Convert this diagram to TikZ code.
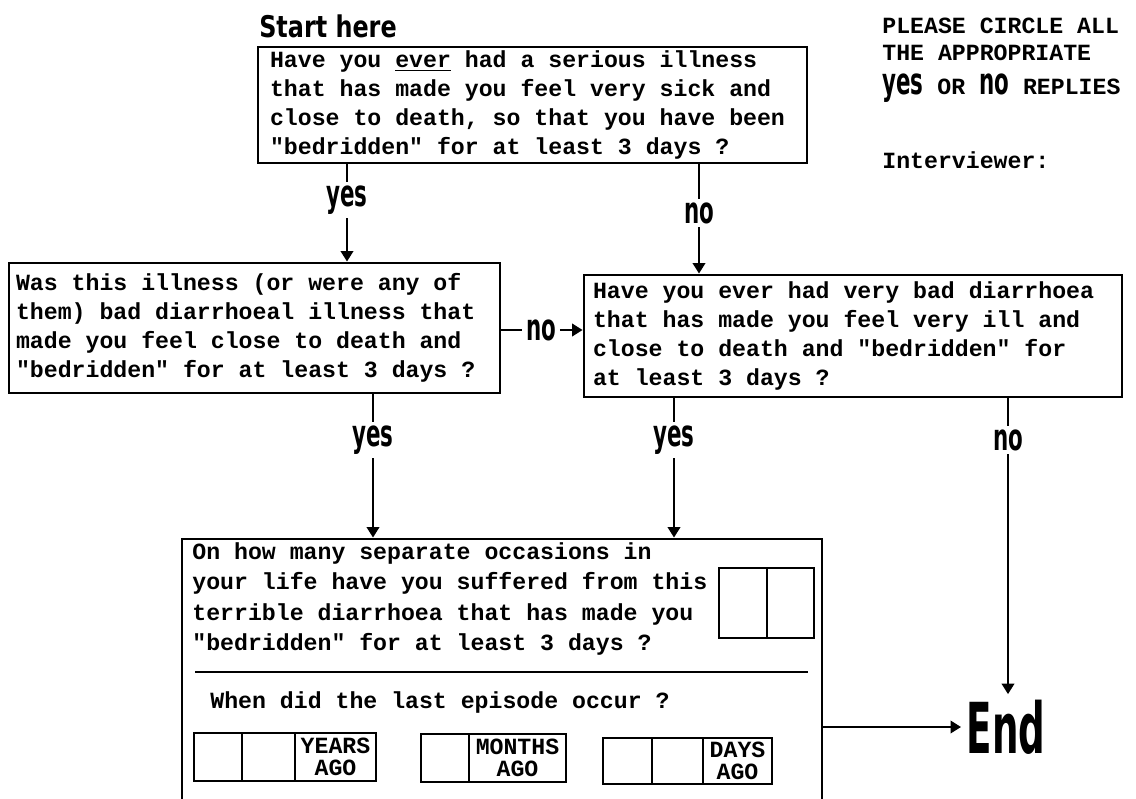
\documentclass[tikz,border=0pt]{standalone}
\usepackage{fontspec}
\usetikzlibrary{arrows.meta,positioning}
\newfontfamily\qfont{Liberation Mono}
\newfontfamily\tallfont{DejaVu Sans}
\newcommand\tall[2][0.58]{\scalebox{#1}[1]{\tallfont\bfseries\fontsize{21}{21}\selectfont #2}}

\begin{document}
\begin{tikzpicture}[x=0.02cm, y=-0.02cm,
  qbox/.style={rectangle, draw, line width=1.6pt, align=left, inner ysep=0pt,
    font=\qfont\bfseries\fontsize{13.2}{16.4}\selectfont,
    execute at begin node={\frenchspacing\spaceskip=0pt\xspaceskip=0pt}},
  cell/.style={rectangle, draw, line width=1.1pt, inner sep=0pt, align=center,
    font=\qfont\bfseries\fontsize{13.2}{12.6}\selectfont},
  lab/.style={inner sep=2pt},
  plain/.style={inner sep=0pt, align=left, font=\qfont\bfseries\fontsize{13.2}{16}\selectfont},
  wire/.style={line width=1.6pt},
  flow/.style={line width=1.6pt, -{Triangle[length=6pt,width=7pt]}}]
\useasboundingbox (0,0) rectangle (1136,798);
\clip (0,0) rectangle (1136,798);

% questions
\node (start) at (328,26) {\tall[0.8]{\fontsize{17}{17}\selectfont Start here}};
\node (q1) at (532.5,105) [qbox, minimum width=10.98cm, minimum height=2.32cm,
  inner xsep=0.24cm, text width=10.5cm]
  {Have you \underline{ever} had a serious illness\\
   that has made you feel very sick and\\
   close to death, so that you have been\\
   "bedridden" for at least 3 days ?};
\node (q2) at (254.5,328) [qbox, minimum width=9.82cm, minimum height=2.6cm,
  inner xsep=0.14cm, text width=9.54cm]
  {Was this illness (or were any of\\
   them) bad diarrhoeal illness that\\
   made you feel close to death and\\
   "bedridden" for at least 3 days ?};
\node (q3) at (853,336) [qbox, minimum width=10.76cm, minimum height=2.44cm,
  inner xsep=0.18cm, text width=10.4cm]
  {Have you ever had very bad diarrhoea\\
   that has made you feel very ill and\\
   close to death and "bedridden" for\\
   at least 3 days ?};
\node (q4) at (502,694.5) [qbox, minimum width=12.8cm, minimum height=6.22cm] {};
\node (end) at (1006,727) [inner sep=3pt] {\tall[0.53]{\fontsize{40}{40}\selectfont End}};

% notes
\node (hdr) at (882,18) [plain, anchor=north west, font=\qfont\bfseries\fontsize{13.2}{15.2}\selectfont]
  {PLEASE CIRCLE ALL\\THE APPROPRIATE\\[4pt]\tall{yes} OR \tall{no} REPLIES};
\node (intv) at (882,160) [plain, anchor=west] {Interviewer:};

% last question
\node (q4txt) at (192,599) [plain, anchor=west, font=\qfont\bfseries\fontsize{13.2}{17.2}\selectfont]
  {On how many separate occasions in\\
   your life have you suffered from this\\
   terrible diarrhoea that has made you\\
   "bedridden" for at least 3 days ?};
\node (n1) at (743,603) [cell, minimum width=0.96cm, minimum height=1.4cm] {};
\node (n2) at (790.5,603) [cell, minimum width=0.94cm, minimum height=1.4cm] {};
\draw [line width=1.1pt] (195,672) -- (808,672);
\node (when) at (210,702) [plain, anchor=west] {When did the last episode occur ?};
\node (y1) at (218,757) [cell, minimum width=0.96cm, minimum height=0.96cm] {};
\node (y2) at (268.5,757) [cell, minimum width=1.06cm, minimum height=0.96cm] {};
\node (y3) at (335.5,757) [cell, minimum width=1.62cm, minimum height=0.96cm] {YEARS\\AGO};
\node (m1) at (445,758) [cell, minimum width=0.96cm, minimum height=0.96cm] {};
\node (m2) at (517.5,758) [cell, minimum width=1.94cm, minimum height=0.96cm] {MONTHS\\AGO};
\node (d1) at (627.5,761) [cell, minimum width=0.98cm, minimum height=0.92cm] {};
\node (d2) at (677.5,761) [cell, minimum width=1.02cm, minimum height=0.92cm] {};
\node (d3) at (737.5,761) [cell, minimum width=1.38cm, minimum height=0.92cm] {DAYS\\AGO};

% answers
\node (l1) at (347,200) [lab] {\tall{yes}};
\node (l0) at (699,213) [lab] {\tall{no}};
\node (l2) at (541,330) [lab] {\tall{no}};
\node (l3) at (373,440) [lab] {\tall{yes}};
\node (l4) at (674,440) [lab] {\tall{yes}};
\node (l5) at (1008,440) [lab] {\tall{no}};

\draw [wire] (q1.south -| l1) -- (l1);
\draw [flow] (l1) -- (l1 |- q2.north);
\draw [wire] (q1.south -| l0) -- (l0);
\draw [flow] (l0) -- (l0 |- q3.north);
\draw [wire] (q2.east |- l2) -- (l2);
\draw [flow] (l2) -- (q3.west |- l2);
\draw [wire] (q2.south -| l3) -- (l3);
\draw [flow] (l3) -- (l3 |- q4.north);
\draw [wire] (q3.south -| l4) -- (l4);
\draw [flow] (l4) -- (l4 |- q4.north);
\draw [wire] (q3.south -| l5) -- (l5);
\draw [flow] (l5) -- (l5 |- end.north);
\draw [flow] (q4.east |- end) -- (end);
\end{tikzpicture}
\end{document}
